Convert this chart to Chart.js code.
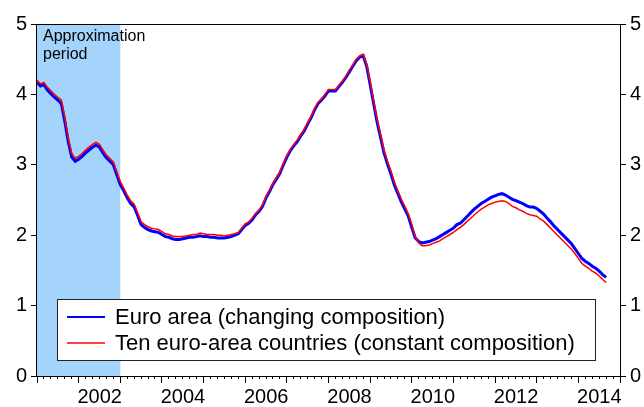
<!DOCTYPE html>
<html>
<head>
<meta charset="utf-8">
<script src="https://cdn.jsdelivr.net/npm/chart.js@4.4.1/dist/chart.umd.min.js"></script>
<style>
  body { margin: 0; background: #fff; }
  canvas { display: block; }
</style>
</head>
<body>
<canvas id="chart" width="644" height="407"></canvas>
<script>
// monthly data, first point is January 2001
const firstYear = 2001;
const lastYear = 2015;

const euroArea = [
  4.17, 4.12, 4.14, 4.06, 4.01, 3.96, 3.92, 3.87, 3.62, 3.33, 3.11, 3.05,
  3.08, 3.12, 3.17, 3.21, 3.25, 3.28, 3.25, 3.17, 3.10, 3.05, 3.00, 2.86,
  2.72, 2.63, 2.53, 2.45, 2.40, 2.28, 2.15, 2.11, 2.08, 2.06, 2.05, 2.04,
  2.01, 1.98, 1.97, 1.95, 1.94, 1.94, 1.95, 1.96, 1.97, 1.97, 1.98, 1.99,
  1.98, 1.98, 1.97, 1.97, 1.96, 1.96, 1.96, 1.97, 1.98, 2.00, 2.02, 2.08,
  2.14, 2.17, 2.22, 2.29, 2.34, 2.41, 2.53, 2.62, 2.72, 2.80, 2.88, 3.00,
  3.11, 3.20, 3.27, 3.33, 3.41, 3.48, 3.58, 3.67, 3.78, 3.87, 3.92, 3.98,
  4.05, 4.05, 4.05, 4.11, 4.17, 4.24, 4.32, 4.40, 4.48, 4.53, 4.55, 4.40,
  4.14, 3.87, 3.61, 3.39, 3.17, 3.01, 2.87, 2.71, 2.59, 2.47, 2.37, 2.27,
  2.11, 1.96, 1.91, 1.89, 1.90, 1.91, 1.93, 1.95, 1.98, 2.01, 2.04, 2.07,
  2.10, 2.15, 2.17, 2.22, 2.27, 2.32, 2.37, 2.41, 2.45, 2.48, 2.51, 2.54,
  2.56, 2.58, 2.59, 2.57, 2.54, 2.51, 2.49, 2.47, 2.45, 2.42, 2.40, 2.40,
  2.38, 2.34, 2.30, 2.24, 2.19, 2.13, 2.08, 2.03, 1.98, 1.93, 1.88, 1.81,
  1.74, 1.67, 1.63, 1.60, 1.56, 1.53, 1.49, 1.44, 1.40
];

const tenCountries = [
  4.20, 4.15, 4.17, 4.10, 4.05, 4.00, 3.96, 3.92, 3.68, 3.38, 3.16, 3.09,
  3.12, 3.16, 3.21, 3.25, 3.29, 3.32, 3.29, 3.21, 3.14, 3.09, 3.04, 2.90,
  2.76, 2.67, 2.57, 2.49, 2.44, 2.32, 2.19, 2.15, 2.12, 2.10, 2.09, 2.08,
  2.05, 2.02, 2.01, 1.99, 1.98, 1.98, 1.98, 1.99, 2.00, 2.01, 2.01, 2.03,
  2.02, 2.01, 2.01, 2.01, 2.00, 2.00, 1.99, 2.00, 2.01, 2.02, 2.04, 2.10,
  2.16, 2.19, 2.24, 2.31, 2.36, 2.43, 2.55, 2.64, 2.74, 2.82, 2.90, 3.02,
  3.13, 3.22, 3.29, 3.35, 3.43, 3.50, 3.60, 3.69, 3.80, 3.89, 3.94, 4.00,
  4.07, 4.07, 4.07, 4.13, 4.19, 4.26, 4.34, 4.42, 4.50, 4.55, 4.57, 4.43,
  4.18, 3.91, 3.65, 3.43, 3.21, 3.05, 2.91, 2.75, 2.63, 2.51, 2.41, 2.30,
  2.15, 1.98, 1.89, 1.85, 1.85, 1.86, 1.88, 1.90, 1.92, 1.95, 1.98, 2.01,
  2.04, 2.08, 2.11, 2.15, 2.20, 2.24, 2.29, 2.33, 2.37, 2.40, 2.43, 2.45,
  2.47, 2.48, 2.49, 2.48, 2.45, 2.41, 2.39, 2.36, 2.34, 2.31, 2.29, 2.28,
  2.27, 2.23, 2.20, 2.15, 2.10, 2.05, 2.00, 1.95, 1.90, 1.85, 1.80, 1.74,
  1.67, 1.60, 1.56, 1.53, 1.49, 1.46, 1.42, 1.37, 1.33
];

const yTicks = [0, 1, 2, 3, 4, 5];
const yearLabels = [2002, 2004, 2006, 2008, 2010, 2012, 2014];
const seriesNames = ['Euro area (changing composition)', 'Ten euro-area countries (constant composition)'];
const shadeFrom = 2001;
const shadeTo = 2003;
const noteLines = ['Approximation', 'period'];

const FONT = '"Liberation Sans", Arial, sans-serif';

function toPoints(values) {
  return values.map((v, i) => ({ x: firstYear + i / 12, y: v }));
}

// shading, note, frame and the boxed legend
const decor = {
  id: 'decor',
  beforeDatasetsDraw(chart) {
    const { ctx, chartArea: a, scales } = chart;
    const x0 = scales.x.getPixelForValue(shadeFrom);
    const x1 = scales.x.getPixelForValue(shadeTo);
    ctx.save();
    ctx.fillStyle = '#a4d3fb';
    ctx.fillRect(x0, a.top, x1 - x0, a.bottom - a.top);
    ctx.fillStyle = '#000';
    ctx.font = '16px ' + FONT;
    ctx.textBaseline = 'middle';
    noteLines.forEach((t, i) => ctx.fillText(t, a.left + 6, a.top + 13 + i * 18));
    ctx.restore();
  },
  afterDatasetsDraw(chart) {
    const { ctx, chartArea: a } = chart;
    ctx.save();
    ctx.strokeStyle = '#000';
    ctx.lineWidth = 1;
    ctx.strokeRect(a.left - 0.5, a.top + 0.5, a.right - a.left + 1, a.bottom - a.top);

    const bx = a.left + 20, by = a.top + 275, bw = 538, bh = 61;
    ctx.fillStyle = '#fff';
    ctx.fillRect(bx, by, bw, bh);
    ctx.strokeStyle = '#222';
    ctx.strokeRect(bx + 0.5, by + 0.5, bw, bh);
    ctx.font = '22px ' + FONT;
    ctx.textBaseline = 'middle';
    chart.data.datasets.forEach((ds, i) => {
      const y = by + 18 + i * 26;
      ctx.strokeStyle = ds.borderColor;
      ctx.lineWidth = Math.min(ds.borderWidth, 2);
      ctx.beginPath();
      ctx.moveTo(bx + 10, y);
      ctx.lineTo(bx + 48, y);
      ctx.stroke();
      ctx.fillStyle = '#000';
      ctx.fillText(ds.label, bx + 58, y + 1);
    });
    ctx.restore();
  }
};

const yAxis = (position, width) => ({
  type: 'linear',
  position: position,
  min: 0,
  max: 5,
  afterBuildTicks: s => { s.ticks = yTicks.map(v => ({ value: v })); },
  afterFit: s => { s.width = width; },
  grid: { drawOnChartArea: false, tickLength: 6, tickColor: '#000' },
  border: { color: '#000' },
  ticks: { color: '#000', padding: 4, font: { family: FONT, size: 20 } }
});

new Chart(document.getElementById('chart'), {
  type: 'line',
  data: {
    datasets: [
      {
        label: seriesNames[0],
        data: toPoints(euroArea),
        borderColor: '#0000ff',
        borderWidth: 3,
        order: 1
      },
      {
        label: seriesNames[1],
        data: toPoints(tenCountries),
        borderColor: '#ff0000',
        borderWidth: 1.5,
        order: 0
      }
    ]
  },
  options: {
    responsive: false,
    animation: false,
    devicePixelRatio: 1,
    layout: { padding: { top: 24 } },
    elements: { point: { radius: 0 }, line: { tension: 0 } },
    plugins: { legend: { display: false }, tooltip: { enabled: false } },
    scales: {
      x: {
        type: 'linear',
        position: 'bottom',
        weight: 1,
        min: firstYear,
        max: lastYear,
        afterBuildTicks: s => {
          const t = [];
          for (let y = firstYear; y <= lastYear; y++) t.push({ value: y });
          s.ticks = t;
        },
        afterFit: s => { s.height = 31; },
        grid: { drawOnChartArea: false, tickLength: 7, tickColor: '#000' },
        border: { color: '#000' },
        ticks: {
          color: '#000',
          padding: 2,
          labelOffset: 21,
          autoSkip: false,
          maxRotation: 0,
          font: { family: FONT, size: 20 },
          callback: v => yearLabels.includes(v) ? String(v) : ''
        }
      },
      xm: {
        type: 'linear',
        position: 'bottom',
        weight: 0,
        min: firstYear,
        max: lastYear,
        afterBuildTicks: s => {
          const t = [];
          for (let k = 0; k <= (lastYear - firstYear) * 6; k++) t.push({ value: firstYear + k / 6 });
          s.ticks = t;
        },
        afterFit: s => { s.height = 0; },
        grid: { drawOnChartArea: false, tickLength: 3, tickColor: '#000' },
        border: { display: false },
        ticks: { display: false }
      },
      y: yAxis('left', 37),
      y2: yAxis('right', 24)
    }
  },
  plugins: [decor]
});
</script>
</body>
</html>
